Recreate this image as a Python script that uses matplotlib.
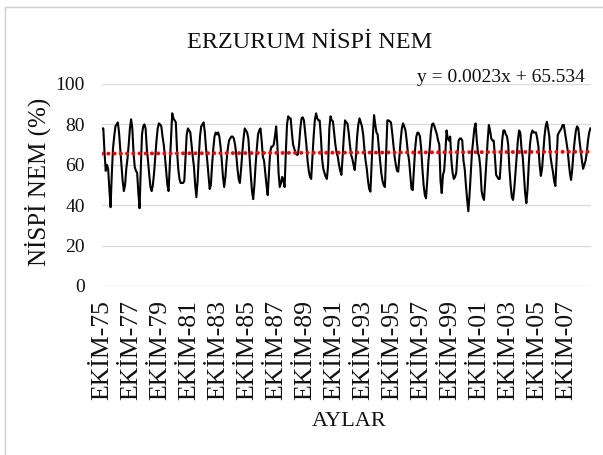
import matplotlib
matplotlib.use("Agg")
import matplotlib.pyplot as plt
import numpy as np
from matplotlib.lines import Line2D

plt.rcParams["font.family"] = ["Liberation Serif", "DejaVu Serif"]

# ── Data: monthly relative humidity (%) ──────────────────────────────────────
humidity = [
    78, 78, 66, 57, 60, 58, 48, 39, 55, 68, 74, 79,          # 1975
    80, 81, 76, 68, 60, 52, 47, 50, 58, 63, 70, 78,          # 1976
    82.5, 78, 66, 59, 57, 56, 46, 38.5, 58, 75, 79, 80,      # 1977
    78, 68, 62, 55, 49, 47, 50, 56, 64, 72, 78, 80.5,        # 1978
    80, 79, 74, 70, 64, 57, 50, 47, 60, 74, 85.5, 83,        # 1979
    82, 81, 67, 58, 53, 51, 51, 51, 52, 64, 75, 78,          # 1980
    77, 76, 70, 64, 59, 50, 44, 52, 64, 74, 79, 80,          # 1981
    81, 76, 68, 62, 55, 48, 50, 60, 68, 74, 76, 75,          # 1982
    76, 74, 69, 62, 54, 49, 54, 62, 68, 72, 73, 74,          # 1983
    74, 73, 70, 65, 58, 53, 51, 58, 66, 73, 78, 77,          # 1984
    76, 73, 64, 55, 47, 43, 50, 60, 68, 75, 77, 78,          # 1985
    72, 64, 62, 56, 50, 45, 56, 66, 69, 69, 70, 74,          # 1986
    79, 70, 56, 49, 51, 54, 52, 49, 66, 80, 84, 83,          # 1987
    83, 76, 70, 68, 66, 65, 65, 70, 78, 83, 83.5, 82,        # 1988
    76, 70, 62, 57, 54, 53, 64, 74, 82, 85.5, 83, 82,        # 1989
    82, 74, 63, 58, 56, 54, 53, 60, 78, 84, 82, 81.5,        # 1990
    76, 70, 66, 64, 60, 57, 55, 64, 74, 82, 81, 80.5,        # 1991
    76, 70, 65, 63, 60, 57.4, 64, 74, 80, 83, 81, 79,        # 1992
    75, 68, 62, 58, 52, 48, 46.7, 60, 74, 84.6, 80, 76,      # 1993
    75, 68, 62, 56, 52, 50, 49, 66, 82, 82, 81.5, 81,        # 1994
    76, 70, 64, 60, 57, 56.6, 64, 72, 78, 80.5, 79, 77,      # 1995
    72, 66, 62, 55, 48, 47.5, 58, 68, 74, 76, 75.6, 74,      # 1996
    68, 58, 50, 45, 43.4, 52, 62, 68, 76, 80, 80.5, 79,      # 1997
    77, 75, 72, 70, 52, 46, 55, 57, 66, 77, 73, 72,          # 1998
    74, 62, 56, 53, 54, 56, 65, 72, 73, 73, 72, 62,          # 1999
    58, 50, 43, 37, 45, 56, 66, 72, 78, 80.5, 72, 66,        # 2000
    64, 58, 47, 44, 42.6, 52, 62, 72, 79.7, 77, 73, 72,      # 2001
    72, 64, 55, 54, 53, 53, 62, 72, 77, 77, 75, 74,          # 2002
    70, 58, 50, 44, 42.6, 48, 56, 64, 72, 77, 76, 68,        # 2003
    64, 55, 46, 41, 48, 60, 70, 75, 77, 76, 76, 76,          # 2004
    73, 69, 60, 54.5, 58, 66, 74, 79, 81.3, 78, 74, 64,      # 2005
    60, 56.6, 52, 49.5, 62, 74.8, 76, 77, 78, 79.7, 79.7, 76,  # 2006
    72, 68, 62, 56, 52.5, 58, 66, 72, 77, 79, 78, 72,        # 2007
    67, 62, 58, 60, 62, 66, 72, 76, 78,                      # 2008
]

tick_labels = ["EKİM-75", "EKİM-77", "EKİM-79", "EKİM-81", "EKİM-83", "EKİM-85",
               "EKİM-87", "EKİM-89", "EKİM-91", "EKİM-93", "EKİM-95", "EKİM-97",
               "EKİM-99", "EKİM-01", "EKİM-03", "EKİM-05", "EKİM-07"]
label_step = 24

trend_slope = 0.0023
trend_intercept = 65.534

y_ticks = [0, 20, 40, 60, 80, 100]

# ── Figure ────────────────────────────────────────────────────────────────────
W, H = 603, 455
fig = plt.figure(figsize=(W / 100, H / 100), dpi=100, facecolor="white")
ax = fig.add_axes([101.5 / W, 1 - 286 / H, (591 - 101.5) / W, (286 - 84) / H])

n = len(humidity)
x = np.arange(n)
trend = trend_slope * (x + 1) + trend_intercept

ax.plot(x, humidity, color="black", lw=1.5, zorder=3)
ax.plot(x, trend, color="#FF0000", lw=2.8, ls=(0, (0.05, 1.55)),
        dash_capstyle="round", zorder=4)

ax.set_xlim(-0.5, n - 0.5)
ax.set_ylim(0, 100)
ax.set_yticks(y_ticks)
ax.yaxis.grid(True, color="#d9d9d9", lw=0.9, zorder=0)
ax.set_axisbelow(True)
for sp in ax.spines.values():
    sp.set_visible(False)

ax.set_xticks(np.arange(0, n, label_step)[:len(tick_labels)])
ax.set_xticklabels(tick_labels, rotation=90, fontsize=18.5, va="top")
ax.tick_params(axis="x", length=0, pad=10, colors="#111111")
ax.tick_params(axis="y", length=0, pad=12, labelsize=14, colors="#111111")

fig.text(310 / W, 1 - 43 / H, "ERZURUM NİSPİ NEM", ha="center", va="center",
         fontsize=17.5, color="#111111")
fig.text(585 / W, 1 - 77 / H, f"y = {trend_slope}x + {trend_intercept}",
         ha="right", va="center", fontsize=14, color="#111111")
fig.text(38 / W, 1 - 182 / H, "NİSPİ NEM (%)", rotation=90, ha="center",
         va="center", fontsize=18, color="#111111")
fig.text(349 / W, 1 - 422 / H, "AYLAR", ha="center", va="center",
         fontsize=16, color="#111111")

# chart area border (left and top edges visible)
fig.add_artist(Line2D([5 / W, 5 / W], [0, 1 - 7 / H], transform=fig.transFigure,
                      color="#d0d0d0", lw=1))
fig.add_artist(Line2D([5 / W, 1], [1 - 7 / H, 1 - 7 / H], transform=fig.transFigure,
                      color="#d0d0d0", lw=1))

fig.savefig("out.png", dpi=100, facecolor="white")
